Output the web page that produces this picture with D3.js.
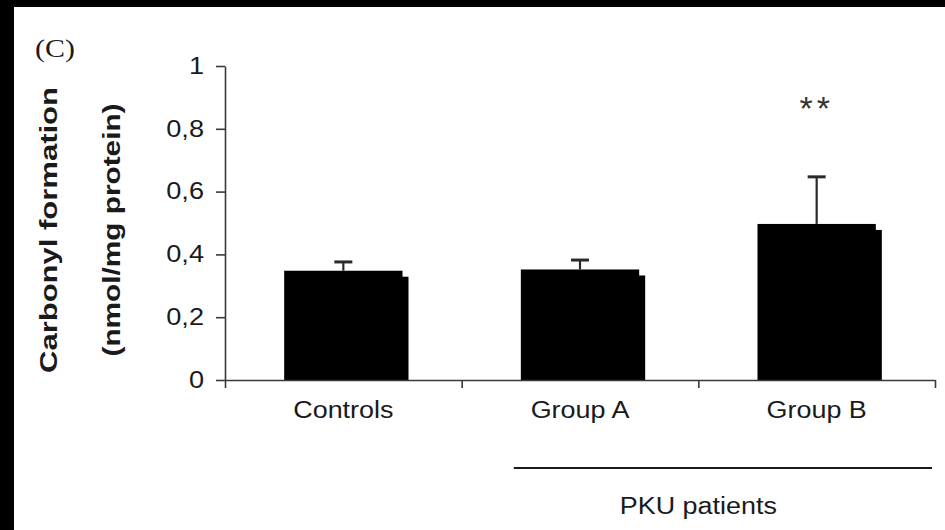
<!DOCTYPE html>
<meta charset="utf-8">
<style>
    body {
        margin: 0;
        background: #000;
    }

    text {
        font-family: "Liberation Sans", Arial, sans-serif;
        fill: #1a1a1a;
    }

    .axis path,
    .axis line {
        fill: none;
        stroke: #3a3a3a;
        stroke-width: 1.6px;
    }

    .axis text {
        font-size: 23px;
    }
</style>
<body>
    <script src="https://cdn.jsdelivr.net/npm/d3@7"></script>
    <script>

        // values
        var categories = ["Controls", "Group A", "Group B"];
        var means = [0.348, 0.352, 0.497];
        var errors = [0.028, 0.030, 0.150];
        var stars = ["", "", "**"];
        var yTicks = [0, 0.2, 0.4, 0.6, 0.8, 1];
        var panelLabel = "(C)";
        var yTitle = ["Carbonyl formation", "(nmol/mg protein)"];
        var groupTitle = "PKU patients";

        var W = 945, H = 530;
        var x0 = 225, x1 = 935, yTop = 66, yBase = 380;
        var shadow = 6;

        var svg = d3.select("body").append("svg")
            .attr("width", W)
            .attr("height", H)
            .style("display", "block");

        // black frame on top / left, white paper
        svg.append("rect").attr("width", W).attr("height", H).attr("fill", "#000");
        svg.append("rect").attr("x", 14).attr("y", 7)
            .attr("width", W - 14).attr("height", H - 7).attr("fill", "#fff");

        var x = d3.scaleBand().domain(categories).range([x0, x1]);
        var y = d3.scaleLinear().domain([0, 1]).range([yBase, yTop]);
        var bw = x.bandwidth() * 0.5;

        var locale = d3.formatLocale({ decimal: ",", thousands: ".", grouping: [3], currency: ["", ""] });

        // widen text like the original (it is horizontally stretched)
        function stretch(sel, k) {
            sel.each(function () {
                var n = this.getComputedTextLength();
                d3.select(this).attr("textLength", n * k).attr("lengthAdjust", "spacingAndGlyphs");
            });
        }
        function fitTo(sel, len) {
            sel.attr("textLength", len).attr("lengthAdjust", "spacingAndGlyphs");
        }

        // bars: shadow first, then the bar itself
        var data = categories.map(function (c, i) {
            return { cat: c, v: means[i], e: errors[i], s: stars[i] };
        });

        svg.selectAll(".shadow")
            .data(data)
            .enter().append("rect")
            .attr("class", "shadow")
            .attr("x", function (d) { return x(d.cat) + bw / 2 + shadow; })
            .attr("y", function (d) { return y(d.v) + shadow; })
            .attr("width", bw)
            .attr("height", function (d) { return yBase - y(d.v) - shadow; })
            .attr("fill", "#000");

        svg.selectAll(".bar")
            .data(data)
            .enter().append("rect")
            .attr("class", "bar")
            .attr("x", function (d) { return x(d.cat) + bw / 2; })
            .attr("y", function (d) { return y(d.v); })
            .attr("width", bw)
            .attr("height", function (d) { return yBase - y(d.v); })
            .attr("fill", "#000");

        // error bars (upper half only)
        var eb = svg.selectAll(".err")
            .data(data)
            .enter().append("g")
            .attr("class", "err")
            .attr("stroke", "#2a2a2a")
            .attr("stroke-width", 2.2);
        eb.append("line")
            .attr("x1", function (d) { return x(d.cat) + x.bandwidth() / 2; })
            .attr("x2", function (d) { return x(d.cat) + x.bandwidth() / 2; })
            .attr("y1", function (d) { return y(d.v); })
            .attr("y2", function (d) { return y(d.v + d.e); });
        eb.append("line")
            .attr("x1", function (d) { return x(d.cat) + x.bandwidth() / 2 - 9; })
            .attr("x2", function (d) { return x(d.cat) + x.bandwidth() / 2 + 9; })
            .attr("y1", function (d) { return y(d.v + d.e); })
            .attr("y2", function (d) { return y(d.v + d.e); })
            .attr("stroke-width", 3);

        // significance marks
        svg.selectAll(".star")
            .data(data.filter(function (d) { return d.s; }))
            .enter().append("text")
            .attr("class", "star")
            .attr("x", function (d) { return x(d.cat) + x.bandwidth() / 2; })
            .attr("y", 120)
            .attr("text-anchor", "middle")
            .style("font-size", "34px")
            .style("letter-spacing", "4px")
            .style("fill", "#333")
            .text(function (d) { return d.s; });

        // y axis
        var yAxis = svg.append("g")
            .attr("class", "axis")
            .attr("transform", "translate(" + x0 + ",0)")
            .call(d3.axisLeft(y).tickValues(yTicks).tickSize(9).tickSizeOuter(0)
                .tickPadding(12).tickFormat(locale.format("~g")));
        stretch(yAxis.selectAll("text"), 1.18);

        // x axis with labels under the bars
        var xAxis = svg.append("g")
            .attr("class", "axis")
            .attr("transform", "translate(0," + yBase + ")")
            .call(d3.axisBottom(x).tickSize(0).tickSizeOuter(0).tickPadding(22));
        stretch(xAxis.selectAll("text"), 1.17);

        // tick marks between categories
        var xb = d3.scaleLinear().domain([0, categories.length]).range([x0, x1]);
        var bounds = svg.append("g")
            .attr("class", "axis")
            .attr("transform", "translate(0," + yBase + ")")
            .call(d3.axisBottom(xb).tickValues(d3.range(categories.length + 1)).tickSize(8).tickFormat(""));
        bounds.select(".domain").remove();

        // group bracket for patients
        svg.append("line")
            .attr("x1", x("Group A") + bw / 2 - 7)
            .attr("x2", x1 - 3)
            .attr("y1", 468).attr("y2", 468)
            .attr("stroke", "#1a1a1a")
            .attr("stroke-width", 2);
        var gt = svg.append("text")
            .attr("x", (x("Group A") + x1) / 2)
            .attr("y", 514)
            .attr("text-anchor", "middle")
            .style("font-size", "23px")
            .text(groupTitle);
        stretch(gt, 1.17);

        // y axis title, two bold lines
        var yLen = [286, 253];
        var yPos = [57, 120];
        yTitle.forEach(function (t, i) {
            var tx = svg.append("text")
                .attr("transform", "translate(" + yPos[i] + "," + 230 + ") rotate(-90)")
                .attr("text-anchor", "middle")
                .style("font-size", "23px")
                .style("font-weight", "bold")
                .text(t);
            fitTo(tx, yLen[i]);
        });

        // panel letter
        var pl = svg.append("text")
            .attr("x", 35)
            .attr("y", 57)
            .style("font-family", "'Liberation Serif', 'Times New Roman', serif")
            .style("font-size", "26px")
            .text(panelLabel);
        stretch(pl, 1.15);

    </script>
</body>
